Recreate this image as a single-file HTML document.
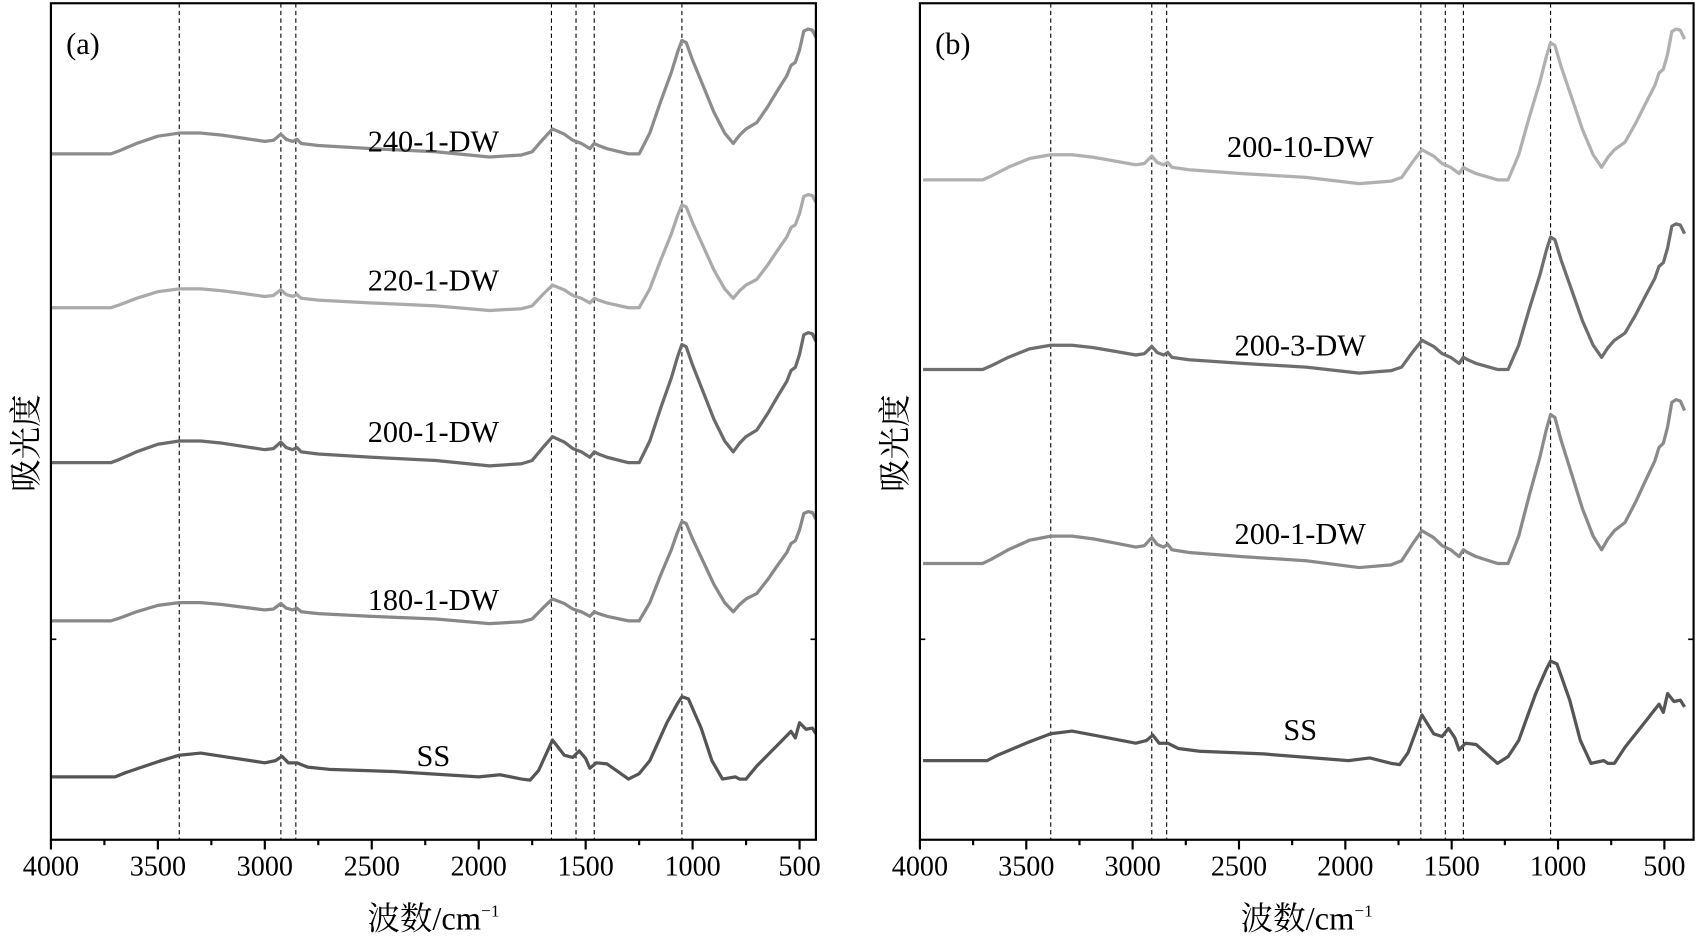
<!DOCTYPE html>
<html><head><meta charset="utf-8"><style>
html,body{margin:0;padding:0;background:#fff;}
svg{display:block;}
text{font-family:"Liberation Serif","Noto Serif CJK SC","Noto Sans CJK SC",serif;fill:#000;}
</style></head><body>
<svg id="s" width="1699" height="939" viewBox="0 0 1568 866.6" preserveAspectRatio="none" xmlns="http://www.w3.org/2000/svg"></svg>
<script>
const svg=document.getElementById('s');
let h='';
const DW=[[4000,0],[3720,0],[3680,3],[3600,10],[3500,17],[3400,20],[3300,20],[3200,18],[3100,15],[3000,12],[2960,13],[2925,19],[2900,14],[2870,12],[2850,14],[2830,10],[2750,8],[2500,5],[2200,2],[1950,-3],[1800,-1],[1750,2],[1700,14],[1655,24],[1600,19],[1560,13],[1520,10],[1480,5],[1460,10],[1440,8],[1400,5],[1300,0],[1250,0],[1200,20],[1150,50],[1100,78],[1070,98],[1050,109],[1030,107],[1000,90],[960,70],[900,40],[850,20],[810,10],[780,18],[750,24],[700,30],[650,45],[600,62],[560,75],[540,85],[520,88],[500,100],[480,118],[460,120],[440,119],[420,112]];
const SS=[[4000,0],[3700,0],[3650,4],[3500,14],[3400,20],[3300,22],[3200,19],[3000,13],[2950,15],[2920,19],[2890,13],[2850,13],[2800,9],[2700,7],[2400,5],[2000,0],[1900,2],[1800,-2],[1760,-3],[1720,6],[1655,34],[1600,20],[1560,18],[1530,24],[1500,17],[1480,8],[1450,13],[1400,12],[1350,5],[1300,-2],[1250,3],[1200,15],[1120,50],[1070,68],[1050,74],[1020,72],[960,45],[910,15],[860,-2],[800,0],[780,-2],[750,-2],[700,10],[600,30],[540,42],[520,36],[500,50],[470,44],[440,45],[420,40]];
function panel(x0,k,right,curves,labels,tag,dash,sh){
  const X=w=>x0+(4000-w)*k;
  const XS=w=>Math.min(X(w-sh),right);
  const top=3,bot=775;
  dash.forEach(w=>{h+=`<line x1="${XS(w)}" y1="${top}" x2="${XS(w)}" y2="${bot}" stroke="#000" stroke-width="1" stroke-dasharray="4,3"/>`;});
  curves.forEach(c=>{
    const pts=c.t.map(p=>XS(p[0]).toFixed(1)+','+(c.b-p[1]*c.s).toFixed(1)).join(' ');
    h+=`<polyline points="${pts}" fill="none" stroke="${c.c}" stroke-width="3" stroke-linejoin="round"/>`;
  });
  h+=`<rect x="${x0}" y="${top}" width="${right-x0}" height="${bot-top}" fill="none" stroke="#000" stroke-width="2"/>`;
  for(let w=4000;w>=400;w-=250){
    const maj=(w%500===0);
    const x=X(w); if(x>right+1)continue;
    h+=`<line x1="${x}" y1="${bot}" x2="${x}" y2="${bot+(maj?9:5)}" stroke="#000" stroke-width="2"/>`;
    if(maj) h+=`<text x="${x}" y="808" font-size="26" text-anchor="middle">${w}</text>`;
  }
  [590].forEach(y=>{h+=`<line x1="${x0}" y1="${y}" x2="${x0+5}" y2="${y}" stroke="#000" stroke-width="1.5"/><line x1="${right}" y1="${y}" x2="${right-5}" y2="${y}" stroke="#000" stroke-width="1.5"/>`;});
  const cx=(x0+right)/2;
  h+=`<text x="${cx}" y="858" font-size="30" text-anchor="middle">波数/cm<tspan font-size="16" dy="-12">−1</tspan></text>`;
  h+=`<text x="${x0-13}" y="409" font-size="30" text-anchor="middle" transform="rotate(-90 ${x0-13} 409)">吸光度</text>`;
  h+=`<text x="${x0+14}" y="50" font-size="28">${tag}</text>`;
  labels.forEach(l=>{h+=`<text x="${l[1]}" y="${l[2]}" font-size="28" text-anchor="middle">${l[0]}</text>`;});
}
panel(47,0.1974,753,[
 {t:DW,b:142,s:0.96,c:'#8c8c8c'},
 {t:DW,b:284,s:0.87,c:'#aaaaaa'},
 {t:DW,b:427,s:1.0,c:'#6a6a6a'},
 {t:DW,b:573,s:0.84,c:'#888888'},
 {t:SS,b:717,s:1.0,c:'#555555'}],
 [['240-1-DW',400,140],['220-1-DW',400,268],['200-1-DW',400,408],['180-1-DW',400,563],['SS',400,707]],
 '(a)',[3400,2925,2855,1660,1545,1460,1050],0);
panel(849,0.1963,1563,[
 {t:DW,b:166,s:1.16,c:'#b0b0b0'},
 {t:DW,b:341,s:1.12,c:'#6e6e6e'},
 {t:DW,b:520,s:1.26,c:'#8a8a8a'},
 {t:SS,b:702,s:1.24,c:'#555555'}],
 [['200-10-DW',1200,145],['200-3-DW',1200,328],['200-1-DW',1200,502],['SS',1200,683]],
 '(b)',[3400,2925,2855,1660,1545,1460,1050],15);
svg.innerHTML=h;
</script>
</body></html>
